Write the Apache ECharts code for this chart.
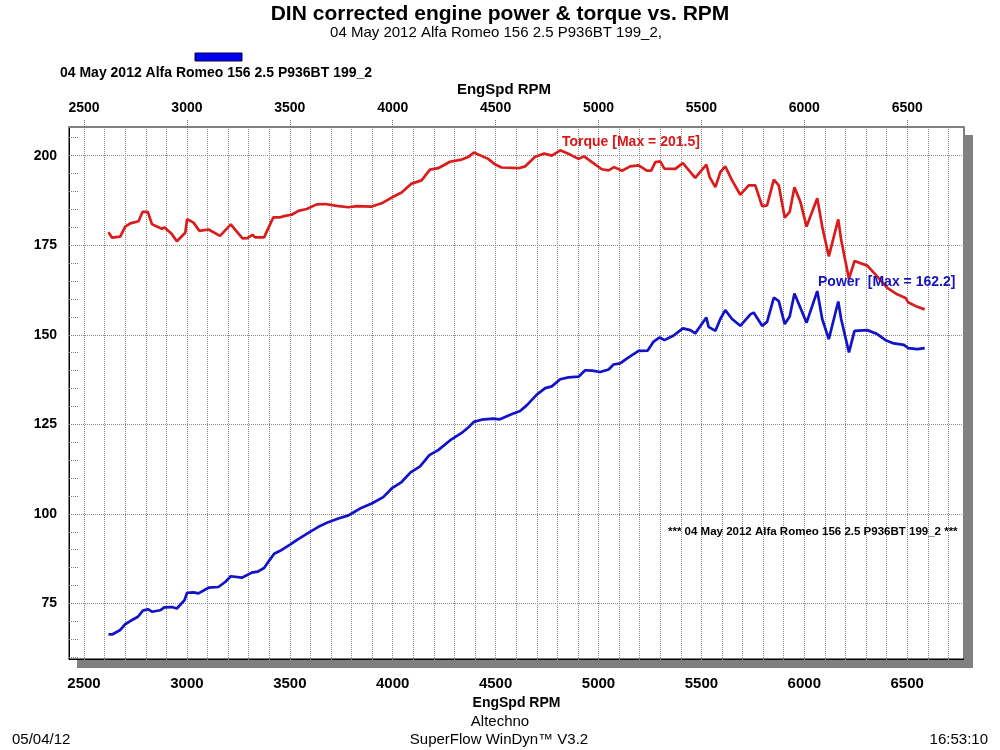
<!DOCTYPE html>
<html><head><meta charset="utf-8">
<script src="https://cdn.jsdelivr.net/npm/echarts@6/dist/echarts.min.js"></script>
<style>html,body{margin:0;padding:0;background:#fff}#c{width:1000px;height:750px}</style>
</head><body><div id="c"></div>
<script>
// ---- data ----
const torqueRpm = [2619,2636,2676,2700,2725,2765,2784,2810,2830,2854,2878,2890,2924,2951,2992,3001,3032,3061,3105,3161,3213,3270,3294,3318,3331,3375,3420,3453,3477,3509,3542,3582,3631,3671,3728,3785,3825,3898,3946,3995,4043,4092,4140,4181,4221,4278,4335,4367,4394,4464,4496,4529,4613,4643,4692,4736,4773,4814,4862,4903,4930,4968,5016,5049,5076,5114,5154,5195,5235,5256,5276,5300,5320,5373,5410,5470,5524,5540,5568,5592,5616,5649,5689,5730,5762,5795,5819,5852,5876,5905,5929,5952,5981,6011,6063,6087,6119,6165,6179,6217,6244,6306,6354,6403,6451,6492,6504,6549,6585];
const torqueVal = [178.6,177.1,177.4,180.2,181.1,181.7,184.3,184.3,180.9,180.2,179.6,180.0,178.3,176.1,178.5,182.3,181.3,179.0,179.4,177.6,180.8,176.9,177.0,177.9,177.2,177.2,182.8,182.8,183.2,183.5,184.6,185.1,186.4,186.5,186.0,185.6,185.9,185.8,186.7,188.3,189.7,192.2,193.1,196.1,196.5,198.3,198.9,199.6,200.9,199.1,197.6,196.7,196.5,197.0,199.7,200.6,200.0,201.5,200.3,199.1,199.8,198.2,196.2,195.9,196.8,195.8,197.0,197.3,195.8,195.8,198.2,198.4,196.4,196.3,197.9,193.8,197.5,194.0,191.2,195.4,197.0,193.1,189.1,191.7,191.7,185.9,186.1,193.3,191.7,182.7,184.3,191.2,187.1,180.2,188.1,180.2,171.9,182.2,176.5,165.6,170.6,169.3,166.3,163.1,161.3,160.3,159.1,157.8,157.1];
const powerRpm = [2619,2639,2676,2700,2725,2762,2786,2810,2830,2870,2890,2927,2951,2988,3001,3032,3056,3105,3153,3186,3213,3267,3315,3344,3375,3399,3424,3453,3501,3537,3590,3639,3687,3736,3785,3809,3841,3898,3954,3995,4043,4087,4133,4178,4221,4278,4335,4367,4394,4432,4488,4521,4577,4619,4651,4700,4741,4773,4814,4854,4903,4935,4968,5008,5049,5073,5105,5146,5195,5239,5268,5297,5320,5365,5410,5446,5470,5524,5535,5568,5592,5616,5649,5689,5738,5754,5795,5819,5852,5876,5905,5929,5952,6011,6063,6087,6119,6165,6179,6217,6244,6306,6354,6395,6435,6484,6504,6549,6585];
const powerVal = [66.4,66.4,67.6,69.2,70.1,71.3,73.0,73.4,72.7,73.1,73.9,74.0,73.6,75.9,78.0,78.1,77.8,79.4,79.6,81.0,82.6,82.2,83.6,83.9,84.9,86.9,88.9,89.7,91.4,92.8,94.7,96.4,97.7,98.7,99.6,100.4,101.5,102.9,104.7,107.1,108.9,111.6,113.3,116.4,117.8,120.5,122.6,124.1,125.7,126.3,126.6,126.4,127.8,128.7,130.3,133.3,135.1,135.6,137.6,138.1,138.3,140.1,140.0,139.6,140.3,141.7,142.0,143.7,145.5,145.6,148.1,149.3,148.5,149.8,151.8,151.3,150.4,154.8,152.2,151.1,154.4,156.9,154.4,152.5,155.7,156.2,152.5,153.6,160.4,159.4,153.0,155.1,161.5,153.4,162.2,154.4,148.8,159.3,154.4,145.1,151.1,151.3,150.2,148.5,147.6,147.2,146.3,146.0,146.3];
const rpmLabelTicks = [2500,3000,3500,4000,4500,5000,5500,6000,6500];
const rpmGridTicks = [2500,2600,2700,2800,2900,3000,3100,3200,3300,3400,3500,3600,3700,3800,3900,4000,4100,4200,4300,4400,4500,4600,4700,4800,4900,5000,5100,5200,5300,5400,5500,5600,5700,5800,5900,6000,6100,6200,6300,6400,6500,6600,6700];
const yLabelTicks = [75,100,125,150,175,200];
const yMinorTicks = [60,65,70,75,80,85,90,95,100,105,110,115,120,125,130,135,140,145,150,155,160,165,170,175,180,185,190,195,200,205];
const titleText = 'DIN corrected engine power & torque vs. RPM';
const runName = '04 May 2012 Alfa Romeo 156 2.5 P936BT 199_2';
const torqueNote = 'Torque [Max = 201.5]';
const powerNote = 'Power  [Max = 162.2]';
const axisName = 'EngSpd RPM';

// ---- layout ----
const G = {left: 69, right: 36, top: 127, bottom: 91};
const W = 1000, H = 750;
const gx1 = W - G.right, gy1 = H - G.bottom;
const SANS = "'Liberation Sans', Arial, sans-serif";
const plain = v => String(v);

function txt(x, y, text, font, fill, align) {
  return {type: 'text', x: x, y: y, silent: true, z: 50,
    style: {text: text, font: font, fill: fill || '#000', align: align || 'left', verticalAlign: 'middle',
            textAlign: align || 'left', textVerticalAlign: 'middle'}};
}

const chart = echarts.init(document.getElementById('c'), null, {renderer: 'canvas'});
chart.setOption({
  backgroundColor: '#fff',
  animation: false,
  grid: {left: G.left, right: G.right, top: G.top, bottom: G.bottom, show: true,
         backgroundColor: '#fff', borderColor: '#000', borderWidth: 1},
  xAxis: [{
    type: 'value', position: 'bottom', min: 2427, max: 6776,
    axisLine: {show: true, onZero: false, lineStyle: {color: '#000', width: 1}},
    axisTick: {show: true, customValues: rpmGridTicks, length: 9, lineStyle: {color: '#777', type: 'dotted'}},
    axisLabel: {customValues: rpmLabelTicks, formatter: plain, margin: 17, fontFamily: SANS, fontSize: 15, fontWeight: 'bold', color: '#000'},
    splitLine: {show: true, lineStyle: {color: '#8a8a8a', type: 'dotted', width: 1}},
    name: axisName, nameLocation: 'middle', nameGap: 37,
    nameTextStyle: {fontFamily: SANS, fontSize: 14, fontWeight: 'bold', color: '#000'}
  }, {
    type: 'value', position: 'top', min: 2427, max: 6776,
    axisLine: {show: true, onZero: false, lineStyle: {color: '#808080', width: 2}},
    axisTick: {show: true, customValues: rpmLabelTicks, length: 8, lineStyle: {color: '#777', type: 'dotted'}},
    axisLabel: {customValues: rpmLabelTicks, formatter: plain, margin: 12, fontFamily: SANS, fontSize: 14, fontWeight: 'bold', color: '#000'},
    splitLine: {show: false}
  }],
  yAxis: [{
    type: 'value', position: 'left', min: 59.5, max: 208,
    axisLine: {show: true, onZero: false, lineStyle: {color: '#000', width: 1}},
    axisTick: {show: false, customValues: yLabelTicks},
    axisLabel: {customValues: yLabelTicks, formatter: plain, margin: 12, fontFamily: SANS, fontSize: 14, fontWeight: 'bold', color: '#000'},
    splitLine: {show: true, lineStyle: {color: '#8a8a8a', type: 'dotted', width: 1}}
  }, {
    type: 'value', position: 'left', min: 59.5, max: 208,
    axisLine: {show: false},
    axisTick: {show: true, inside: true, length: 9, customValues: yMinorTicks, lineStyle: {color: '#777', type: 'dotted'}},
    axisLabel: {show: false},
    splitLine: {show: false}
  }],
  series: [{
    name: 'Torque', type: 'line', xAxisIndex: 0, yAxisIndex: 0, z: 5,
    data: torqueRpm.map((r, i) => [r, torqueVal[i]]),
    showSymbol: false, silent: true,
    lineStyle: {color: '#da1c1c', width: 2.7}
  }, {
    name: 'Power', type: 'line', xAxisIndex: 0, yAxisIndex: 0, z: 5,
    data: powerRpm.map((r, i) => [r, powerVal[i]]),
    showSymbol: false, silent: true,
    lineStyle: {color: '#1212c8', width: 2.7}
  }],
  graphic: [
    // drop shadow of the plot frame
    {type: 'rect', silent: true, z: -1, shape: {x: gx1 + 1, y: G.top + 8, width: 8, height: gy1 - G.top + 1}, style: {fill: '#808080'}},
    {type: 'rect', silent: true, z: -1, shape: {x: G.left + 8, y: gy1 + 1, width: gx1 - G.left + 1, height: 8}, style: {fill: '#808080'}},
    txt(500, 14, titleText, 'bold 21px ' + SANS, '#000', 'center'),
    txt(496, 33, runName + ',', '15px ' + SANS, '#000', 'center'),
    {type: 'rect', silent: true, z: 50, shape: {x: 195, y: 53, width: 47, height: 8}, style: {fill: '#0000f0', stroke: '#000040', lineWidth: 1}},
    txt(60, 73, runName, 'bold 14px ' + SANS, '#000', 'left'),
    txt(504, 90, axisName, 'bold 15px ' + SANS, '#000', 'center'),
    txt(562, 142, torqueNote, 'bold 14px ' + SANS, '#d81818', 'left'),
    txt(818, 282, powerNote, 'bold 14px ' + SANS, '#1414c0', 'left'),
    txt(668, 532, '*** ' + runName + ' ***', 'bold 11.5px ' + SANS, '#000', 'left'),
    txt(500, 722, 'Altechno', '15px ' + SANS, '#000', 'center'),
    txt(499, 740, 'SuperFlow WinDyn\u2122 V3.2', '15px ' + SANS, '#000', 'center'),
    txt(12, 740, '05/04/12', '15px ' + SANS, '#000', 'left'),
    txt(988, 740, '16:53:10', '15px ' + SANS, '#000', 'right')
  ]
});
</script></body></html>
